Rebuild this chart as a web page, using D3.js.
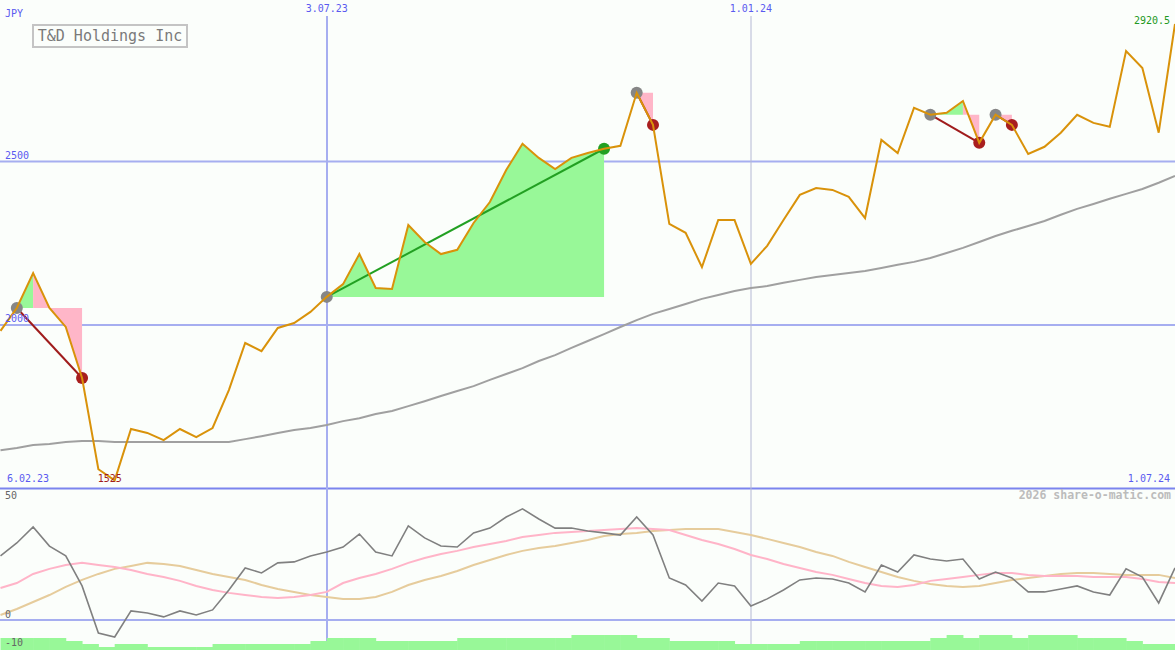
<!DOCTYPE html>
<html><head><meta charset="utf-8">
<script src="https://cdn.jsdelivr.net/npm/d3@7"></script>
<style>
html,body{margin:0;padding:0;background:#fbfefb;}
svg{display:block;}
text{font-family:"DejaVu Sans Mono",monospace;}
</style></head><body>
<script>
// ---------- data ----------
const startDate = new Date(2023, 1, 13);   // first weekly close shown (Monday)
const endDate = new Date(2024, 6, 1);
const dateTicks = ["2023-02-06", "2023-07-03", "2024-01-01", "2024-07-01"];
const dateTickLabels = ["6.02.23", "3.07.23", "1.01.24", "1.07.24"];
const priceTicks = [2000, 2500];

const price = [1982,2052,2159,2052,1994,1838,1559,1525,1682,1670,1648,1682,1657,1685,1801,1945,1920,1991,2006,2040,
  2086,2125,2217,2113,2110,2306,2254,2217,2230,2312,2376,2474,2554,2511,2477,2511,2526,2539,2548,2710,
  2612,2309,2282,2177,2321,2321,2187,2242,2321,2398,2419,2413,2392,2327,2566,2526,2664,2643,2649,2685,
  2557,2643,2612,2523,2545,2588,2643,2618,2606,2838,2786,2588,2920.5];

const movingAvg = [1617,1624,1633,1636,1642,1645,1645,1642,1642,1642,1642,1642,1642,1642,1642,1651,1660,1670,1679,1685,
  1694,1706,1715,1728,1737,1752,1767,1783,1798,1813,1832,1850,1868,1890,1908,1930,1951,1972,1994,2015,
  2034,2049,2064,2080,2092,2104,2113,2119,2129,2138,2147,2153,2159,2165,2174,2184,2193,2205,2220,2236,
  2254,2272,2288,2303,2318,2337,2355,2370,2386,2401,2416,2435,2456];

const oscillator = [26.7,32.1,38.8,30.8,26.7,14.2,-5.4,-7.1,3.8,2.9,1.3,3.8,2.1,4.2,12.5,21.7,19.6,23.8,24.2,26.7,
  28.3,30.4,35.8,28.3,26.7,39.2,34.2,30.8,30.4,36.3,38.3,42.9,46.3,42.1,38.3,38.3,37.1,36.3,35.4,42.9,
  35.4,17.5,14.6,7.9,15.4,14.2,5.8,8.8,12.5,16.7,17.5,17.1,15.4,11.7,22.9,20.0,27.1,25.4,24.6,25.4,
  17.1,20.0,17.5,11.7,11.7,12.9,14.2,11.7,10.4,21.3,17.9,7.1,21.7];

const oscFast = [13.3,15.4,19.2,21.3,22.9,23.8,22.9,22.1,20.8,19.2,17.9,16.3,14.2,12.5,11.3,10.4,9.6,9.2,9.6,10.4,
  11.7,15.4,17.5,19.2,21.3,23.8,25.8,27.5,28.8,30.4,31.7,32.9,34.6,35.4,36.3,36.7,37.1,37.5,37.9,38.3,
  37.9,37.5,35.4,33.3,31.7,29.6,27.1,25.4,23.3,21.7,20.0,18.8,17.1,15.4,14.2,13.8,14.6,16.3,17.1,17.9,
  18.8,19.6,19.6,18.8,18.3,18.3,18.3,17.9,17.9,17.9,17.1,15.8,15.4];

const oscSlow = [2.1,4.6,7.5,10.4,13.8,16.7,19.2,21.3,22.5,23.8,23.3,22.5,20.8,19.2,17.9,16.7,14.6,12.9,11.7,10.4,
  9.6,8.8,8.8,9.6,11.7,14.6,16.7,18.3,20.4,22.9,25.0,27.1,28.8,30.0,30.8,32.1,33.3,35.0,35.8,36.3,
  37.1,37.5,37.9,37.9,37.9,36.7,35.4,33.8,32.1,30.4,28.3,26.7,24.2,22.1,20.0,17.9,16.3,15.0,14.2,13.8,
  14.2,15.4,16.7,17.5,18.3,19.2,19.6,19.6,19.2,18.8,18.8,18.8,17.5];

const barLevel = [4,4,4,4,3,2,1,2,2,1,1,1,1,2,2,2,2,2,2,3,
  4,4,4,3,3,3,3,3,4,4,4,4,4,4,4,5,5,5,5,4,
  4,3,3,3,3,2,2,2,2,3,3,3,3,3,3,3,3,4,5,4,
  5,5,4,5,5,5,4,4,4,3,2,2,2];

const oscTicks = [50, 0, -10];
const tradeEntry = [1, 20, 39, 57, 61];
const tradeExit = [5, 37, 40, 60, 62];
const title = "T&D Holdings Inc";
const currency = "JPY";
const credit = "2026 share-o-matic.com";

// ---------- layout ----------
const W = 1175, H = 650;
const svg = d3.select("body").append("svg").attr("width", W).attr("height", H);
svg.append("rect").attr("width", W).attr("height", H).attr("fill", "#fbfefb");

const dates = d3.timeMonday.range(startDate, d3.timeDay.offset(endDate, 1));
const parse = d3.timeParse("%Y-%m-%d");
const x = d3.scaleTime().domain([startDate, endDate]).range([0.5, 1175]);
const xi = i => x(dates[i]);
const y = d3.scaleLinear().domain([2000, 2500]).range([325, 161.5]);
const yo = d3.scaleLinear().domain([-10, 50]).range([644, 500]);
const yb = d3.scaleLinear().domain([0, 5]).range([650, 635]);

const blue = "#7b84ee", lightBlue = "#a6aef0";

// grid lines (main)
svg.selectAll(".hg").data(priceTicks).join("line")
  .attr("x1", 0).attr("x2", W).attr("y1", d => y(d)).attr("y2", d => y(d))
  .attr("stroke", lightBlue).attr("stroke-width", 2);
// bottom of main panel
svg.append("line").attr("x1", 0).attr("x2", W).attr("y1", y(1500)).attr("y2", y(1500))
  .attr("stroke", blue).attr("stroke-width", 2);
// lower panel zero line
svg.append("line").attr("x1", 0).attr("x2", W).attr("y1", yo(0)).attr("y2", yo(0))
  .attr("stroke", lightBlue).attr("stroke-width", 2);

// vertical date lines
const innerTicks = dateTicks.slice(1, 3).map(parse);
svg.selectAll(".vg").data(innerTicks).join("line")
  .attr("x1", d => Math.round(x(d))).attr("x2", d => Math.round(x(d)))
  .attr("y1", 16).attr("y2", H)
  .attr("stroke", (d, i) => i === 0 ? lightBlue : "#b4b8d4")
  .attr("stroke-width", (d, i) => i === 0 ? 2 : 1);

// green bars (lower)
svg.selectAll(".bar").data(barLevel).join("rect")
  .attr("x", (d, i) => xi(i))
  .attr("width", (d, i) => (i < dates.length - 1 ? xi(i + 1) : xi(i) + 16.35) - xi(i) + 0.5)
  .attr("y", d => yb(d)).attr("height", d => yb(0) - yb(d))
  .attr("fill", "#98f898");

// oscillator lines
const lo = d3.line().x((d, i) => xi(i)).y(d => yo(d));
svg.append("path").attr("d", lo(oscSlow)).attr("fill", "none").attr("stroke", "#e6cc9c").attr("stroke-width", 2);
svg.append("path").attr("d", lo(oscFast)).attr("fill", "none").attr("stroke", "#ffb4c8").attr("stroke-width", 2);
svg.append("path").attr("d", lo(oscillator)).attr("fill", "none").attr("stroke", "#808080").attr("stroke-width", 1.6);

// moving average
const lp = d3.line().x((d, i) => xi(i)).y(d => y(d));
svg.append("path").attr("d", lp(movingAvg)).attr("fill", "none").attr("stroke", "#a0a0a0").attr("stroke-width", 2);

// trade fills
const poly = d3.line().x(p => p[0]).y(p => p[1]);
tradeEntry.forEach((a, k) => {
  const b = tradeExit[k];
  const ey = y(price[a]);
  const win = price[b] > price[a];
  let p = a;
  for (let i = a; i <= b; i++) if (price[i] > price[p]) p = i;
  const seg = (s, e) => {
    const pts = [];
    for (let i = s; i <= e; i++) pts.push([xi(i), y(price[i])]);
    pts.push([xi(e), ey]); pts.push([xi(s), ey]);
    return poly(pts) + "Z";
  };
  if (win) {
    svg.append("path").attr("d", seg(a, b)).attr("fill", "#98f898");
  } else {
    if (p > a) svg.append("path").attr("d", seg(a, p)).attr("fill", "#98f898");
    svg.append("path").attr("d", seg(p, b)).attr("fill", "#ffb6c8");
  }
});
// trade lines
tradeEntry.forEach((a, k) => {
  const b = tradeExit[k];
  const win = price[b] > price[a];
  svg.append("line").attr("x1", xi(a)).attr("y1", y(price[a])).attr("x2", xi(b)).attr("y2", y(price[b]))
    .attr("stroke", win ? "#22a022" : "#a01c1c").attr("stroke-width", 2);
});
// markers
tradeEntry.forEach((a, k) => {
  const b = tradeExit[k];
  const win = price[b] > price[a];
  svg.append("circle").attr("cx", xi(a)).attr("cy", y(price[a])).attr("r", 6).attr("fill", "#868686");
  svg.append("circle").attr("cx", xi(b)).attr("cy", y(price[b])).attr("r", 6).attr("fill", win ? "#22a022" : "#a81e1e");
});

// price line
svg.append("path").attr("d", lp(price)).attr("fill", "none").attr("stroke", "#d9920a").attr("stroke-width", 2);

// ---------- texts ----------
const txt = (t, xx, yy, col, anchor, size) => svg.append("text").text(t).attr("x", xx).attr("y", yy)
  .attr("fill", col).attr("text-anchor", anchor || "start").attr("font-size", size || 10);

txt(currency, 5, 17, "#5a5af0");
svg.append("rect").attr("x", 33).attr("y", 25).attr("width", 154).attr("height", 22)
  .attr("fill", "#fbfefb").attr("stroke", "#c4c4c4").attr("stroke-width", 2);
txt(title, 110, 41, "#7a7a7a", "middle", 15);

priceTicks.forEach(v => txt(String(v), 5, y(v) - 3, "#5a5af0"));
txt(dateTickLabels[1], x(parse(dateTicks[1])), 12, "#5a5af0", "middle");
txt(dateTickLabels[2], x(parse(dateTicks[2])), 12, "#5a5af0", "middle");
txt(dateTickLabels[0], 7, 482, "#5a5af0");
txt(dateTickLabels[3], 1170, 482, "#5a5af0", "end");

// min label
const minI = d3.minIndex(price);
txt(String(price[minI]), xi(minI) - 5, 482, "#a01c1c", "middle");
// last label
txt(String(price[price.length - 1]), 1170, 24, "#229922", "end");

txt(credit, 1171, 499, "#bcbcbc", "end", 11.5).attr("font-weight", "bold");

oscTicks.forEach(v => txt(String(v), 5, yo(v) + (v === 50 ? -1 : (v === 0 ? -2 : 2)), "#666", "start"));
</script>
</body></html>
